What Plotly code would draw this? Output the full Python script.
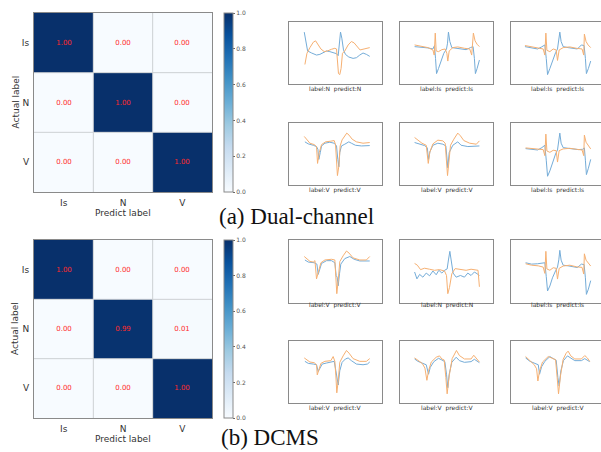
import plotly.graph_objects as go

# ---------------- data ----------------
classes = ["Is", "N", "V"]
cm_dual = [[1.00, 0.00, 0.00],
           [0.00, 1.00, 0.00],
           [0.00, 0.00, 1.00]]
cm_dcms = [[1.00, 0.00, 0.00],
           [0.00, 0.99, 0.01],
           [0.00, 0.00, 1.00]]
cbar_ticks = [0.0, 0.2, 0.4, 0.6, 0.8, 1.0]

# ECG samples: (time, amplitude) pairs, blue = channel 1, orange = channel 2
# Dual-channel, row 1
a1_blue = [(16.4,83.7),(17.9,68.5),(20,53.3),(24.3,50),(29.6,46.7),(33.2,47.8),(36.8,51),(40.4,53.3),(43.9,52.2),(47.5,50.5),(51.1,48.9),(52.9,45.7),(54,63),(55.4,83.7),(56.8,73.9),(58.6,54.9),(60.7,47.8),(64.3,43.5),(68.9,41.3),(72.5,42.4),(76.1,46.7),(79.6,50),(83.2,47.8),(86.8,44.6)]
a1_orange = [(17.1,31.5),(19.3,49.5),(22.5,58.7),(26.1,67.4),(28.6,69.6),(31.4,64.1),(34.3,56.5),(37.9,52.2),(41.4,53.3),(45.7,56),(49.3,57.6),(51.1,56.5),(52.1,41.3),(53.2,16.8),(54.6,15.2),(56,25),(57.5,49.5),(60,53.3),(63.6,63),(67.1,68.5),(70,66.3),(72.9,60.3),(76.4,54.9),(80.7,56.5),(86.8,58.7)]
a2_blue = [(15.7,60.3),(22.9,59.8),(30,58.2),(35.4,56.5),(37.1,62),(38.2,41.3),(39.3,16.8),(41.4,25),(44.3,38.6),(47.1,49.5),(50,56.5),(51.1,65.8),(52.1,83.7),(53.6,68.5),(55.7,58.7),(60.4,57.6),(65.7,57.1),(71.1,55.4),(75.7,58.7),(78.6,60.3),(80,41.3),(81.1,16.8),(82.9,25),(85.4,38.6)]
a2_orange = [(15.7,63),(22.9,60.9),(30,58.7),(35.4,54.9),(36.8,46.7),(37.9,82.1),(38.9,53.3),(41.4,52.2),(45,55.4),(48.6,56.5),(50.4,49.5),(51.4,37),(52.9,53.3),(56.8,58.7),(62.1,59.8),(69.3,57.6),(75,56.5),(77.1,46.7),(78.2,65.8),(78.9,82.1),(80.7,69.6),(82.9,64.1),(85.4,60.3)]
a3_blue = [(15,60.3),(22.1,58.7),(28.6,56.5),(32.9,59.8),(36.4,63),(37.9,41.3),(39.3,15.2),(41.8,25),(44.6,38.6),(47.9,50.5),(50,56.5),(51.4,68.5),(52.5,83.7),(53.9,68.5),(56.1,60.3),(61.4,58.7),(66.8,57.6),(71.4,56.5),(75.7,63),(78.6,62),(80,41.3),(81.1,16.8),(83.2,25),(85.7,37)]
a3_orange = [(15,62),(22.1,59.8),(29.3,58.7),(34.6,56.5),(36.4,46.7),(37.5,82.1),(38.6,54.3),(41.8,52.2),(45.4,56.5),(48.6,54.9),(50,38),(51.8,54.9),(56.1,58.7),(63.2,59.8),(70.4,57.6),(76.4,56.5),(78.2,46.7),(78.9,80.4),(80.7,68.5),(82.9,63),(85.7,58.7)]
# Dual-channel, row 2
b1_blue = [(17.1,69.6),(20.7,66.3),(26.1,64.1),(29.6,62),(31.1,57.6),(32.1,41.3),(33.6,52.2),(35,63),(38.6,67.4),(43.9,69),(48.6,67.4),(51.1,63),(52.5,41.3),(53.6,29.3),(54.6,52.2),(56.4,63),(60,65.8),(64.3,69.6),(67.1,67.4),(71.4,64.1),(77.9,63),(86.8,63.6)]
b1_orange = [(16.4,78.3),(18.9,73.9),(22.5,67.4),(27.1,65.2),(29.6,62),(30.7,34.8),(32.5,52.2),(35,65.2),(39.3,69.6),(45,70.7),(48.6,71.7),(50,65.2),(51.1,41.3),(52.1,15.2),(53.6,30.4),(55,63),(57.1,72.8),(60,78.3),(62.1,83.7),(64.6,80.4),(67.9,73.9),(72.5,69.6),(79.6,67.4),(86.8,68.5)]
b2_blue = [(15.7,68.5),(21.1,65.8),(26.4,63.6),(29.3,60.3),(30.7,41.3),(32.1,53.3),(35.4,64.1),(40.7,67.4),(46.1,65.8),(49.3,63),(50.7,41.3),(51.4,27.7),(52.9,52.2),(56.8,64.1),(62.1,69.6),(65.7,64.1),(72.9,62),(80,62),(85.4,63)]
b2_orange = [(15.7,76.6),(19.3,72.8),(23.6,67.4),(28.2,64.1),(29.3,52.2),(30.4,34.8),(32.1,53.3),(35.4,66.3),(40.7,72.3),(46.1,71.2),(48.6,67.4),(50,41.3),(51.1,15.2),(52.5,35.9),(54.3,64.1),(57.9,73.9),(62.1,83.7),(65,79.3),(68.6,71.7),(75,67.4),(82.1,65.8),(85.4,71.2)]
b3_blue = [(15.7,58.7),(22.1,57.6),(28.6,56.5),(33.2,60.3),(36.4,64.1),(37.9,40),(39.3,14.1),(41.8,22.8),(44.6,36.4),(47.9,50),(50,56.5),(51.4,68.5),(52.5,83.7),(53.9,67.4),(56.1,60.3),(61.4,59.2),(66.8,58.2),(72.5,57.1),(77.1,57.6),(78.9,59.8),(80,40),(81.1,16.8),(83.2,27),(85.7,41.3)]
b3_orange = [(15.7,59.8),(22.1,58.7),(29.3,58.2),(34.6,57.1),(36.4,47.3),(37.5,82.1),(38.6,54.9),(41.8,52.7),(45.4,56),(48.6,55.4),(50,37),(51.8,55.4),(56.1,58.2),(63.2,59.2),(70.4,57.6),(76.4,56.5),(78.2,47.3),(78.9,80.4),(80.7,69),(82.9,63.6),(85.7,58.2)]
# DCMS, row 1
c1_blue = [(17.1,68.3),(20.7,65),(27.1,63.9),(30,61.7),(31.4,45.4),(33.2,54.6),(35,62.8),(40.4,67.2),(45.7,67.2),(49.3,63.9),(50.7,43.7),(51.8,41),(52.9,27.3),(54.3,46.4),(55.7,61.7),(60,70.5),(65.4,73.8),(70,69.4),(76.1,66.7),(86.8,66.7)]
c1_orange = [(16.4,73.8),(18.9,70.5),(22.5,66.1),(26.1,65),(27.9,67.2),(29.6,38.3),(31.4,49.2),(34.3,63.9),(38.6,68.3),(45.7,69.4),(49.3,68.3),(50.4,46.4),(51.4,14.8),(52.9,35.5),(54.6,65.6),(58.2,74.9),(61.8,82.5),(64.6,79.2),(68.9,71.6),(76.1,68.3),(83.2,68.3),(86.8,73.8)]
c2_blue = [(15.7,49.2),(18.2,38.3),(21.1,45.4),(24.6,41),(28.2,47.5),(31.8,43.2),(35.4,50.8),(38.9,44.8),(41.8,51.9),(45,47.5),(47.9,51.9),(50.7,54.1),(52.1,68.3),(53.6,82),(55,68.3),(57.1,47.5),(60.4,41),(65,43.7),(69.3,41),(72.9,47.5),(76.4,43.7),(80,49.2),(82.9,46.4),(85.4,43.7)]
c2_orange = [(15.7,62.8),(18.6,60.1),(22.1,53),(26.4,55.2),(31.8,53.6),(37.1,51.9),(42.5,53),(47.9,50.8),(50,43.7),(51.4,14.8),(53.2,24.6),(55.7,46.4),(59.3,54.6),(65,53.6),(71.1,51.9),(76.4,53.6),(81.8,51.9),(83.9,51.9),(85.4,25.7)]
c3_blue = [(15.7,63.9),(22.1,61.7),(28.6,62.3),(33.2,63.9),(36.4,63.9),(37.9,42),(39.3,19.1),(41.8,27),(44.6,40),(47.9,51),(50,57),(51.4,68.5),(52.5,83.6),(53.9,68),(56.1,60),(61.4,59),(66.8,57.4),(71.4,56.3),(75.7,61.7),(78.6,61),(80,40),(81.1,13.7),(83.2,22),(85.7,35.5)]
c3_orange = [(15.7,62.3),(22.1,60),(29.3,59),(34.6,57),(36.4,47),(37.5,82),(38.6,54),(41.8,52),(45.4,56),(48.6,55),(50,38),(51.8,55),(56.1,58.7),(63.2,60),(70.4,57.5),(76.4,56.5),(78.2,46),(78.9,78.1),(80.7,68),(82.9,63),(85.7,58.7)]
# DCMS, row 2
d1_blue = [(17.1,67.2),(20.7,63.9),(26.1,62.8),(29.6,61.7),(31.4,50.8),(33.2,56.3),(35.7,62.8),(40.4,64.5),(45.7,65.6),(48.6,67.2),(50.4,51.9),(51.8,35.5),(52.9,29),(54.6,51.9),(57.1,65.6),(60.7,71),(63.6,72.7),(67.1,68.3),(72.5,62.8),(79.6,61.7),(84.3,62.8),(86.8,66.1)]
d1_orange = [(16.4,72.7),(18.9,69.4),(22.5,66.1),(27.1,65),(29.6,61.7),(30.4,45.4),(31.8,51.9),(34.3,63.9),(38.6,67.2),(45,68.3),(47.5,74.9),(49.3,67.2),(50.4,43.7),(51.4,16.4),(52.9,35.5),(54.6,65.6),(58.2,76),(61.8,84.7),(64.6,80.3),(68.9,71.6),(76.1,67.2),(83.2,67.2),(86.8,71.6)]
d2_blue = [(15.7,71),(19.3,67.2),(24.6,63.9),(28.2,61.7),(30.7,46.4),(32.5,57.4),(36.4,66.7),(41.4,72.1),(45,69.4),(48.2,66.7),(50,46.4),(51.4,24.6),(52.9,46.4),(55.7,65.6),(60.4,73.8),(63.9,68.3),(69.3,65.6),(76.4,66.7),(80,70.5),(85.4,65)]
d2_orange = [(15.7,72.7),(19.3,68.3),(23.9,63.9),(26.8,56.3),(28.9,36.6),(30.7,51.9),(33.6,66.1),(38.9,73.8),(42.5,76),(45,71),(47.5,69.4),(49.3,41),(50.7,14.8),(52.9,43.7),(56.1,71.6),(60.7,84.7),(63.9,76.5),(69.3,71),(76.4,71),(79.3,77),(82.1,71.6),(85.4,66.1)]
d3_blue = [(15.7,72.7),(20.4,67.2),(25.7,63.9),(29.3,61.7),(30.7,46.4),(32.9,58.5),(36.4,67.2),(41.8,74.9),(45.4,71.6),(48.6,68.9),(50.4,41.5),(51.8,27.3),(53.6,51.9),(56.4,68.3),(60.7,76),(63.6,72.7),(68.6,68.3),(75.7,68.3),(79.3,71.6),(84.6,66.7)]
d3_orange = [(15.7,74.9),(20.4,68.3),(25,61.7),(27.5,55.2),(28.9,35.5),(30.7,51.9),(33.9,66.1),(40,74.9),(43.6,72.7),(47.9,69.9),(49.6,41.5),(51.1,14.8),(53.2,43.7),(56.1,70.5),(59.3,80.3),(61.4,83.6),(64.3,76),(68.6,71),(75.7,71),(79.3,76.5),(82.1,72.7),(84.6,67.2)]

dual_labels = [["N", "N"], ["Is", "Is"], ["Is", "Is"],
               ["V", "V"], ["V", "V"], ["Is", "Is"]]
dcms_labels = [["V", "V"], ["N", "N"], ["Is", "Is"],
               ["V", "V"], ["V", "V"], ["V", "V"]]
dual_series = [(a1_blue, a1_orange), (a2_blue, a2_orange), (a3_blue, a3_orange),
               (b1_blue, b1_orange), (b2_blue, b2_orange), (b3_blue, b3_orange)]
dcms_series = [(c1_blue, c1_orange), (c2_blue, c2_orange), (c3_blue, c3_orange),
               (d1_blue, d1_orange), (d2_blue, d2_orange), (d3_blue, d3_orange)]

# ---------------- layout helpers ----------------
W, H = 601, 452
def fx(p):
    return p / W
def fy(p):
    return 1 - p / H

BLUES = ['#f7fbff', '#deebf7', '#c6dbef', '#9ecae1', '#6baed6',
         '#4292c6', '#2171b5', '#08519c', '#08306b']
BLUE_LINE = '#74acd8'
ORANGE_LINE = '#f6b072'
FRAME = '#8a8a8a'
SANS = 'DejaVu Sans'

fig = go.Figure()
layout = dict(width=W, height=H, margin=dict(l=0, r=0, t=0, b=0),
              paper_bgcolor='white', plot_bgcolor='white', showlegend=False)
annotations = []
shapes = []

# ---------------- confusion matrices ----------------
cm_specs = [(cm_dual, 13, 192, "(a) Dual-channel", 217, 216),
            (cm_dcms, 240, 418, "(b) DCMS", 219, 437)]
for k, (cm, top, bot, caption, cap_x, cap_y) in enumerate(cm_specs):
    xa = 'x' if k == 0 else 'x2'
    ya = 'y' if k == 0 else 'y2'
    fig.add_trace(go.Heatmap(
        z=cm, x=classes, y=classes, xaxis=xa, yaxis=ya,
        colorscale=[[i / (len(BLUES) - 1), c] for i, c in enumerate(BLUES)],
        zmin=0, zmax=1, texttemplate='%{z:.2f}',
        textfont=dict(size=7, color='#ff2b2b', family=SANS),
        hoverinfo='skip',
        colorbar=dict(x=fx(224), xanchor='left', xref='paper',
                      y=fy(top), yanchor='top', yref='paper',
                      len=bot - top, lenmode='pixels',
                      thickness=9, thicknessmode='pixels',
                      xpad=0, ypad=0, outlinewidth=1, outlinecolor=FRAME,
                      tickvals=cbar_ticks, tickformat='.1f',
                      ticks='outside', ticklen=2, tickcolor='#666',
                      tickfont=dict(size=6, color='#555', family=SANS))))
    axis_common = dict(showline=True, mirror=True, linecolor=FRAME, linewidth=1,
                       ticks='', ticklabelstandoff=2,
                       tickfont=dict(size=9, color='#333', family=SANS),
                       showgrid=False, zeroline=False, fixedrange=True)
    xname = 'xaxis' if k == 0 else 'xaxis2'
    yname = 'yaxis' if k == 0 else 'yaxis2'
    layout[xname] = dict(domain=[fx(34), fx(212)], anchor=ya, **axis_common)
    layout[yname] = dict(domain=[fy(bot), fy(top)], anchor=xa,
                         autorange='reversed', **axis_common)
    n = len(classes)
    for i in range(1, n):
        shapes.append(dict(type='line', xref=xa + ' domain', yref=ya + ' domain',
                           x0=i / n, x1=i / n, y0=0, y1=1,
                           line=dict(color='#cdd0d4', width=1)))
        shapes.append(dict(type='line', xref=xa + ' domain', yref=ya + ' domain',
                           x0=0, x1=1, y0=i / n, y1=i / n,
                           line=dict(color='#cdd0d4', width=1)))
    annotations.append(dict(text='Predict label', x=fx(123), y=fy(bot + 21),
                            xref='paper', yref='paper', showarrow=False,
                            xanchor='center', yanchor='middle',
                            font=dict(size=9, color='#333', family=SANS)))
    annotations.append(dict(text='Actual label', x=fx(15), y=fy((top + bot) / 2),
                            xref='paper', yref='paper', showarrow=False,
                            textangle=-90, xanchor='center', yanchor='middle',
                            font=dict(size=9, color='#333', family=SANS)))
    annotations.append(dict(text=caption, x=fx(cap_x), y=fy(cap_y),
                            xref='paper', yref='paper', showarrow=False,
                            xanchor='left', yanchor='middle',
                            font=dict(size=23, color='#111', family='Liberation Serif')))

# ---------------- ECG sample panels ----------------
col_px = [(289, 382), (400, 493), (511, 604)]
row_px = [(22, 84, 89), (123, 185, 190), (240, 303, 305), (341, 403, 408)]
NBSP = '\u00a0'
axis_no = 3
groups = [(dual_series, dual_labels, 0), (dcms_series, dcms_labels, 2)]
for series, labels, row0 in groups:
    for idx, ((blue, orange), (lab, pred)) in enumerate(zip(series, labels)):
        r, c = divmod(idx, 3)
        top, bot, lab_y = row_px[row0 + r]
        left, right = col_px[c]
        vis_right = min(right, W)
        xr = 100 * (vis_right - left) / (right - left)
        xa, ya = f'x{axis_no}', f'y{axis_no}'
        for pts, colr in ((blue, BLUE_LINE), (orange, ORANGE_LINE)):
            fig.add_trace(go.Scatter(x=[p[0] for p in pts], y=[p[1] for p in pts],
                                     mode='lines', xaxis=xa, yaxis=ya,
                                     line=dict(color=colr, width=1),
                                     hoverinfo='skip'))
        layout[f'xaxis{axis_no}'] = dict(domain=[fx(left), fx(vis_right)], anchor=ya,
                                         range=[0, xr], showline=True, mirror=True,
                                         linecolor=FRAME, linewidth=1, showticklabels=False,
                                         ticks='', showgrid=False, zeroline=False,
                                         fixedrange=True)
        layout[f'yaxis{axis_no}'] = dict(domain=[fy(bot), fy(top)], anchor=xa,
                                         range=[0, 100], showline=True,
                                         mirror=(right <= W),
                                         linecolor=FRAME, linewidth=1, showticklabels=False,
                                         ticks='', showgrid=False, zeroline=False,
                                         fixedrange=True)
        annotations.append(dict(text=f'label:{lab}{NBSP} predict:{pred}',
                                x=fx((left + right) / 2), y=fy(lab_y),
                                xref='paper', yref='paper', showarrow=False,
                                xanchor='center', yanchor='middle',
                                font=dict(size=6, color='#333', family=SANS)))
        axis_no += 1

layout['annotations'] = annotations
layout['shapes'] = shapes
fig.update_layout(**layout)
fig.write_html("out.html")
